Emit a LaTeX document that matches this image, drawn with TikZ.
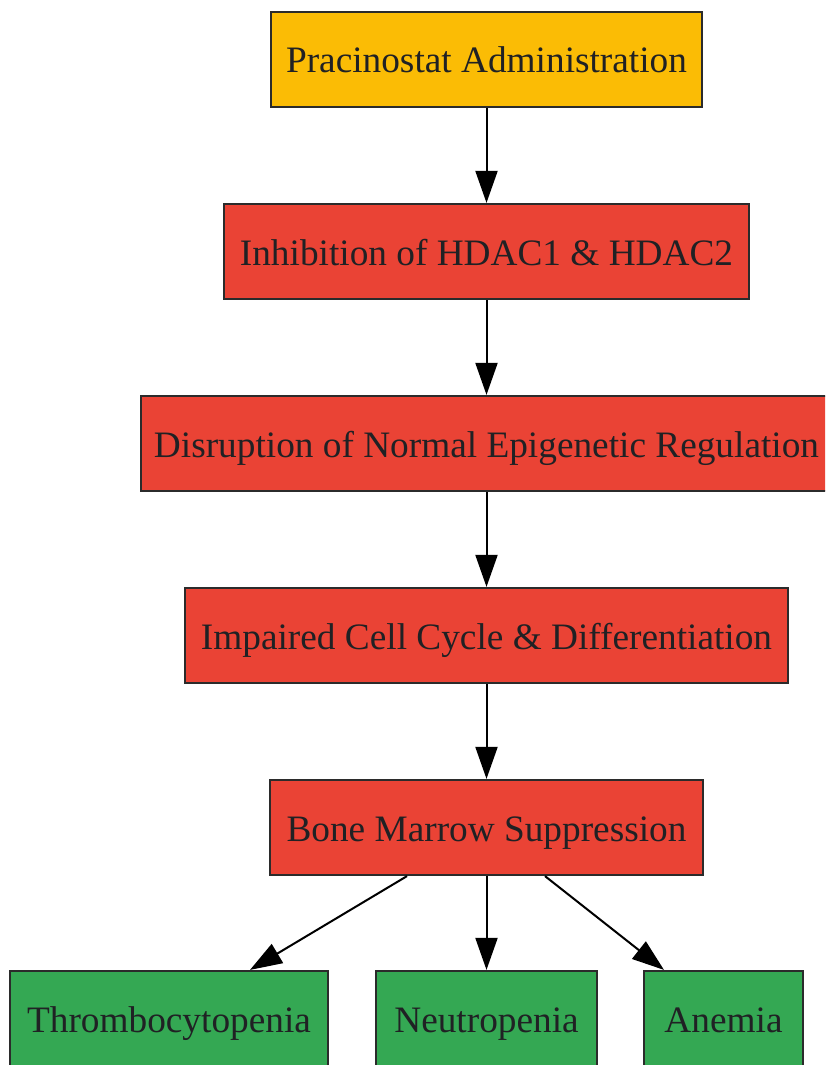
\documentclass[tikz,border=0pt]{standalone}
\usepackage{fontspec}
\setmainfont{Liberation Serif}
\usetikzlibrary{arrows.meta,calc}
\definecolor{gyellow}{HTML}{FBBC05}
\definecolor{gred}{HTML}{EA4335}
\definecolor{ggreen}{HTML}{34A853}
\definecolor{bordc}{HTML}{2B2B2B}
\definecolor{txtc}{HTML}{202124}
\tikzset{
  box/.style={draw=bordc, line width=2.2pt, minimum height=95pt, inner sep=0pt,
    text height=30pt, text depth=3pt,
    font=\fontsize{37.3}{44}\selectfont, text=txtc},
  yel/.style={box, fill=gyellow},
  redb/.style={box, fill=gred},
  grn/.style={box, fill=ggreen},
  conn/.style={draw=black, line width=2pt, -{Triangle[length=32pt,width=22pt]}}
}
\begin{document}
\begin{tikzpicture}[x=1pt,y=-1pt]
\useasboundingbox (0,0) rectangle (825,1065);
\clip (0,0) rectangle (825,1065);
\node[yel, minimum width=431pt] (pra) at (486.5,59.5) {Pracinostat Administration};
\node[redb, minimum width=525pt] (inh) at (486.5,251.5) {Inhibition of HDAC1 \& HDAC2};
\node[redb, minimum width=691pt] (dis) at (486.5,443.5) {Disruption of Normal Epigenetic Regulation};
\node[redb, minimum width=603pt] (imp) at (486.5,635.5) {Impaired Cell Cycle \& Differentiation};
\node[redb, minimum width=433pt] (bon) at (486.5,827.5) {Bone Marrow Suppression};
\node[grn, minimum width=318pt] (thr) at (169,1018.5) {Thrombocytopenia};
\node[grn, minimum width=221pt] (neu) at (486.5,1018.5) {Neutropenia};
\node[grn, minimum width=159pt] (ane) at (723.5,1018.5) {Anemia};
\draw[conn] (pra) -- (inh);
\draw[conn] (inh) -- (dis);
\draw[conn] (dis) -- (imp);
\draw[conn] (imp) -- (bon);
\draw[conn] (bon) -- (neu);
\draw[conn] ($(bon.south)+(-79.5,0)$) -- ($(thr.north)+(81,0)$);
\draw[conn] ($(bon.south)+(58.5,0)$) -- ($(ane.north)+(-59.5,0)$);
\end{tikzpicture}
\end{document}
